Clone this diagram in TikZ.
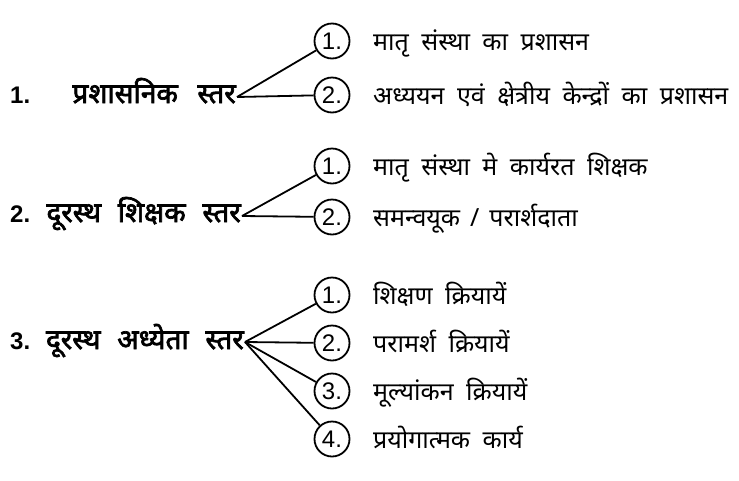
\documentclass[tikz,border=0pt]{standalone}
\usepackage{fontspec}
\setmainfont{Liberation Sans}
\newfontfamily\devfont[Script=Devanagari]{Noto Sans}
\newfontfamily\devbold[Script=Devanagari,FakeBold=2.5]{Noto Sans}
\newfontfamily\numfont{Liberation Sans}
\begin{document}
\begin{tikzpicture}[x=1pt,y=-1pt,
	num/.style={circle,draw,line width=1.8pt,minimum size=35pt,inner sep=0pt,font=\numfont\fontsize{24}{26}\selectfont},
	item/.style={anchor=base west,inner sep=0pt,font=\devfont\fontsize{25}{28}\selectfont},
	title/.style={anchor=base east,inner sep=0pt,font=\devbold\fontsize{28}{30}\selectfont},
	levelno/.style={anchor=base west,inner sep=0pt,font=\numfont\bfseries\fontsize{24}{26}\selectfont},
	link/.style={line width=1.8pt}]
	\useasboundingbox (0,0) rectangle (739,480);
	% level 1
	\node [levelno] (n1) at (10,103) {1.};
	\node [title] (t1) at (236,103) {प्रशासनिक\hspace{0.7em}स्तर};
	\coordinate (s1) at (237,97);
	\node [num] (c11) at (332,41) {1.};
	\node [num] (c12) at (332,95) {2.};
	\node [item] (i11) at (373,50) {मातृ\enspace संस्था\enspace का\enspace प्रशासन};
	\node [item] (i12) at (373,104) {अध्ययन\enspace एवं\enspace क्षेत्रीय\enspace केन्द्रों\enspace का\enspace प्रशासन};
	\draw [link] (s1) -- (c11);
	\draw [link] (s1) -- (c12);
	% level 2
	\node [levelno] (n2) at (10,222) {2.};
	\node [title] (t2) at (241,222) {दूरस्थ\hspace{0.6em}शिक्षक\hspace{0.6em}स्तर};
	\coordinate (s2) at (242,216);
	\node [num] (c21) at (332,166) {1.};
	\node [num] (c22) at (332,217) {2.};
	\node [item] (i21) at (373,175) {मातृ\enspace संस्था\enspace मे\enspace कार्यरत\enspace शिक्षक};
	\node [item] (i22) at (373,226) {समन्वयूक\hspace{0.4em}/\hspace{0.4em}परार्शदाता};
	\draw [link] (s2) -- (c21);
	\draw [link] (s2) -- (c22);
	% level 3
	\node [levelno] (n3) at (10,349) {3.};
	\node [title] (t3) at (244,349) {दूरस्थ\hspace{0.6em}अध्येता\hspace{0.6em}स्तर};
	\coordinate (s3) at (245,342);
	\node [num] (c31) at (332,295) {1.};
	\node [num] (c32) at (332,343) {2.};
	\node [num] (c33) at (332,391) {3.};
	\node [num] (c34) at (332,439) {4.};
	\node [item] (i31) at (373,304) {शिक्षण\enspace क्रियायें};
	\node [item] (i32) at (373,352) {परामर्श\enspace क्रियायें};
	\node [item] (i33) at (373,400) {मूल्यांकन\enspace क्रियायें};
	\node [item] (i34) at (373,448) {प्रयोगात्मक\enspace कार्य};
	\draw [link] (s3) -- (c31);
	\draw [link] (s3) -- (c32);
	\draw [link] (s3) -- (c33);
	\draw [link] (s3) -- (c34);
\end{tikzpicture}
\end{document}
